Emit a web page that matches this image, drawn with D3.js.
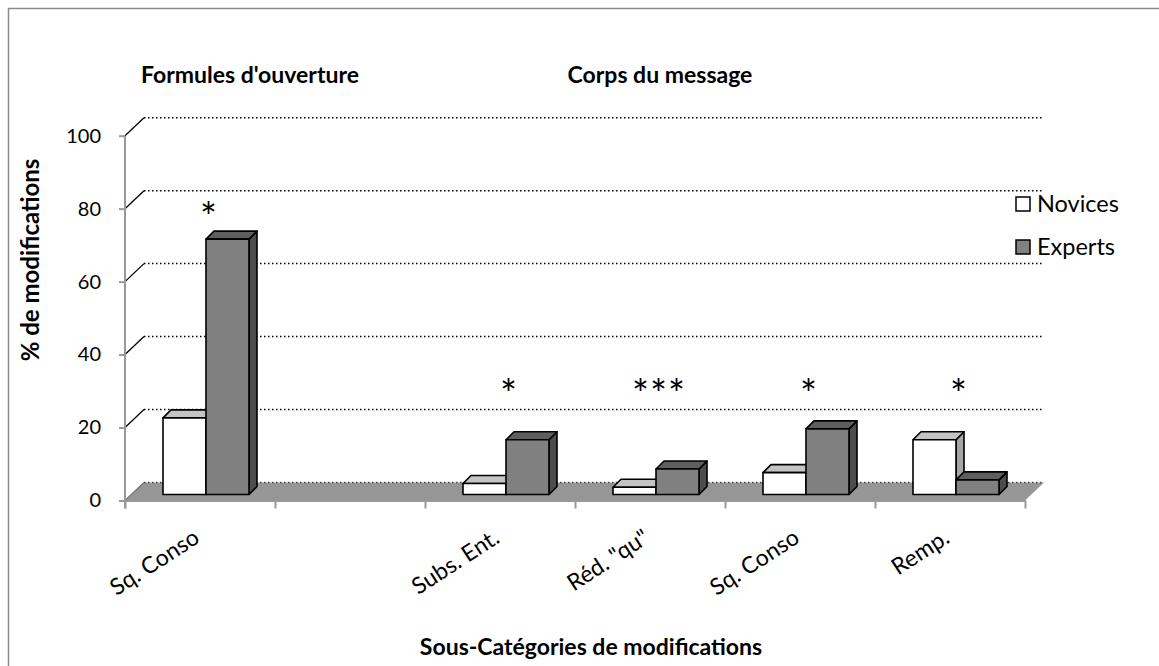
<!DOCTYPE html>
<html>
<head>
<meta charset="utf-8">
<script src="https://cdn.jsdelivr.net/npm/d3@7"></script>
<style>
  body { margin: 0; background: #fff; }
  text { font-family: Lato, "Open Sans", sans-serif; fill: #000; }
</style>
</head>
<body>
<div id="chart"></div>
<script>
// data
const categories = ["Sq. Conso", "", "Subs. Ent.", "Réd. \"qu\"", "Sq. Conso", "Remp."];
const novices = [21, null, 3, 2, 6, 15];
const experts = [70, null, 15, 7, 18, 4];
const signif = ["*", "", "*", "***", "*", "*"];
const yTicks = [0, 20, 40, 60, 80, 100];
const seriesNames = ["Novices", "Experts"];
const groupTitles = ["Formules d'ouverture", "Corps du message"];

let W = 1159, H = 666;
let svg = d3.select("#chart").append("svg").attr("width", W).attr("height", H);

// frame
svg.append("rect").attr("x", 8.5).attr("y", 8.5).attr("width", 1300).attr("height", 800)
  .attr("fill", "none").attr("stroke", "#8c8c8c").attr("stroke-width", 1.5);

let x = d3.scaleBand().domain(d3.range(categories.length)).range([125, 1025]);
let xEdge = d3.scaleLinear().domain([0, categories.length]).range([125, 1025]);
let y = d3.scaleLinear().domain([0, 100]).range([500.5, 135.7]);

let dX = 19, dY = 18;      // depth of the back wall
let off = 6, bd = 8;       // bar offset from front plane, bar depth
let bw = 43;               // bar width

// floor
let y0 = y(0);
svg.append("polygon")
  .attr("points", [[125, y0], [125 + dX, y0 - dY], [1025 + dX, y0 - dY], [1025, y0]].join(" "))
  .attr("fill", "#969696");

// gridlines on back wall
yTicks.forEach(t => {
  let yy = y(t);
  svg.append("line").attr("x1", 125).attr("y1", yy).attr("x2", 125 + dX).attr("y2", yy - dY)
    .attr("stroke", t == 0 ? "#777" : "#000").attr("stroke-width", 1.3);
  svg.append("line").attr("x1", 125 + dX).attr("y1", yy - dY).attr("x2", 1025 + dX).attr("y2", yy - dY)
    .attr("stroke", t == 0 ? "#444" : "#000").attr("stroke-width", 1.5)
    .attr("stroke-dasharray", "1.5,2.5");
});

// y axis
let yAxis = svg.append("g").attr("transform", "translate(125,0)")
  .call(d3.axisLeft(y).tickValues(yTicks).tickSize(6).tickPadding(18).tickSizeOuter(0));
yAxis.select(".domain").remove();
yAxis.append("line").attr("x1", 0).attr("x2", 0).attr("y1", y(100)).attr("y2", y0 + 8)
  .attr("stroke", "#999").attr("stroke-width", 2);
yAxis.selectAll(".tick line").attr("stroke", "#999").attr("stroke-width", 2);
yAxis.selectAll(".tick text").style("font-family", "Lato, sans-serif").style("font-size", "20px").attr("fill", "#000");

// x axis
let xAxis = svg.append("g").attr("transform", "translate(0," + y0 + ")")
  .call(d3.axisBottom(xEdge).tickValues(d3.range(categories.length + 1)).tickSize(8).tickFormat("").tickSizeOuter(0));
xAxis.select(".domain").attr("stroke", "#999").attr("stroke-width", 2);
xAxis.selectAll(".tick line").attr("stroke", "#999").attr("stroke-width", 2);

// bars
let fills = [
  {front: "#ffffff", top: "#c4c4c4", side: "#a6a6a6"},
  {front: "#808080", top: "#5e5e5e", side: "#4d4d4d"}
];
function drawBar(bx, v, f) {
  let bottom = y(0) - off, top = y(v) - off;
  let g = svg.append("g").attr("stroke", "#000").attr("stroke-width", 1.6).attr("stroke-linejoin", "round");
  g.append("polygon").attr("fill", f.side)
    .attr("points", [[bx + bw, top], [bx + bw + bd, top - bd], [bx + bw + bd, bottom - bd], [bx + bw, bottom]].join(" "));
  g.append("polygon").attr("fill", f.top)
    .attr("points", [[bx, top], [bx + bd, top - bd], [bx + bw + bd, top - bd], [bx + bw, top]].join(" "));
  g.append("rect").attr("fill", f.front).attr("x", bx).attr("y", top).attr("width", bw).attr("height", bottom - top);
}
categories.forEach((c, i) => {
  [novices[i], experts[i]].forEach((v, s) => {
    if (v == null) return;
    drawBar(x(i) + 32 + off + s * bw, v, fills[s]);
  });
});

// significance stars
categories.forEach((c, i) => {
  if (!signif[i]) return;
  let top = d3.max([novices[i], experts[i]]);
  let cy = Math.min(y(top) - off - 30, y(31.5));
  svg.append("text").attr("x", x(i) + 32 + off + bw + 3).attr("y", cy + 23)
    .attr("text-anchor", "middle").style("font-size", "40px").style("letter-spacing", "1px")
    .text(signif[i]);
});

// category labels
categories.forEach((c, i) => {
  if (!c) return;
  let cx = x(i) + x.bandwidth() / 2 + 1;
  svg.append("text").attr("transform", "translate(" + cx + "," + (y0 + 41) + ") rotate(-33)")
    .attr("text-anchor", "end").style("font-size", "23px").text(c);
});

// group titles
svg.append("text").attr("x", 250).attr("y", 83).attr("text-anchor", "middle")
  .style("font-size", "23px").style("font-weight", "bold").text(groupTitles[0]);
svg.append("text").attr("x", 660).attr("y", 83).attr("text-anchor", "middle")
  .style("font-size", "23px").style("font-weight", "bold").text(groupTitles[1]);

// axis titles
svg.append("text").attr("transform", "translate(39,260) rotate(-90)").attr("text-anchor", "middle")
  .style("font-size", "24px").style("font-weight", "bold").text("% de modifications");
svg.append("text").attr("x", 591).attr("y", 655).attr("text-anchor", "middle")
  .style("font-size", "23px").style("font-weight", "bold").text("Sous-Catégories de modifications");

// legend
seriesNames.forEach((n, s) => {
  let ly = 197 + s * 43;
  svg.append("rect").attr("x", 1016).attr("y", ly).attr("width", 14).attr("height", 14)
    .attr("fill", fills[s].front).attr("stroke", "#000").attr("stroke-width", 1.5);
  svg.append("text").attr("x", 1037).attr("y", ly + 15).style("font-size", "23.5px").text(n);
});
</script>
</body>
</html>
